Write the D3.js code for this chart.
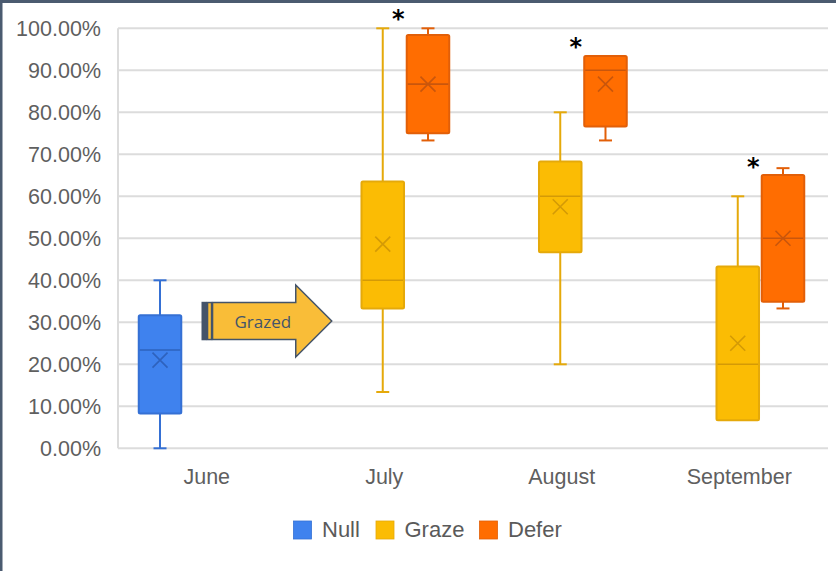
<!DOCTYPE html>
<html>
<head>
<meta charset="utf-8">
<script src="https://cdn.jsdelivr.net/npm/d3@7"></script>
<style>
    body { margin: 0; background: #fff; }
    svg { display: block; font-family: "Liberation Sans", Arial, sans-serif; }
</style>
</head>
<body>
<div id="chart"></div>
<script>
// DATA //
const months = ["June", "July", "August", "September"]
const seriesNames = ["Null", "Graze", "Defer"]
const yTicks = [0, 10, 20, 30, 40, 50, 60, 70, 80, 90, 100]

// box stats in percent
const nullBoxes = [
    {month: "June", min: 0, q1: 8.3, median: 23.4, q3: 31.7, max: 40, mean: 21},
]
const grazeBoxes = [
    {month: "July", min: 13.4, q1: 33.3, median: 40, q3: 63.5, max: 100, mean: 48.6},
    {month: "August", min: 20, q1: 46.7, median: 60, q3: 68.3, max: 80, mean: 57.5},
    {month: "September", min: 6.7, q1: 6.7, median: 20, q3: 43.3, max: 60, mean: 25},
]
const deferBoxes = [
    {month: "July", min: 73.3, q1: 75, median: 86.7, q3: 98.4, max: 100, mean: 86.7},
    {month: "August", min: 73.3, q1: 76.6, median: 90, q3: 93.4, max: 93.4, mean: 86.7},
    {month: "September", min: 33.3, q1: 34.9, median: 50, q3: 65.1, max: 66.7, mean: 50},
]
// significance markers (level in percent)
const significant = [
    {month: "July", level: 103.4},
    {month: "August", level: 96.7},
    {month: "September", level: 68.2},
]
const arrowLabel = "Grazed"

// STYLE //
const colors = {
    Null:  {fill: "#3f82ee", stroke: "#3570d4", dark: "#2e62bd"},
    Graze: {fill: "#fbbc04", stroke: "#e5a90a", dark: "#d49a06"},
    Defer: {fill: "#ff6d01", stroke: "#e25f08", dark: "#c9560c"},
}

let dimensions = {
    width: 836,
    height: 571,
    margin: {top: 28.3, right: 8, bottom: 122.7, left: 118},
}
dimensions.boundedWidth = dimensions.width - dimensions.margin.left - dimensions.margin.right
dimensions.boundedHeight = dimensions.height - dimensions.margin.top - dimensions.margin.bottom

// scales
const xScale = d3.scaleBand()
    .domain(months)
    .range([0, dimensions.boundedWidth])

const groupWidth = 133
const innerScale = d3.scaleBand()
    .domain(seriesNames)
    .range([(xScale.bandwidth() - groupWidth) / 2 - 1.5, (xScale.bandwidth() + groupWidth) / 2 - 1.5])
    .paddingInner(0.06)

const yScale = d3.scaleLinear()
    .domain([0, 100])
    .range([dimensions.boundedHeight, 0])

const svg = d3.select("#chart")
    .append("svg")
    .attr("width", dimensions.width)
    .attr("height", dimensions.height)

const bounds = svg.append("g")
    .attr("transform", `translate(${dimensions.margin.left},${dimensions.margin.top})`)

// gridlines
bounds.append("g")
    .selectAll("line")
    .data(yTicks)
    .join("line")
    .attr("x1", 0)
    .attr("x2", dimensions.boundedWidth)
    .attr("y1", d => yScale(d))
    .attr("y2", d => yScale(d))
    .attr("stroke", "#dcdcdc")
    .attr("stroke-width", 2)

bounds.append("line")
    .attr("x1", 0).attr("x2", 0)
    .attr("y1", 0).attr("y2", dimensions.boundedHeight)
    .attr("stroke", "#dcdcdc")
    .attr("stroke-width", 2)

// y axis
const yAxisGenerator = d3.axisLeft(yScale)
    .tickValues(yTicks)
    .tickSize(0)
    .tickPadding(17)
    .tickFormat(d => d.toFixed(2) + "%")

const yAxis = bounds.append("g").call(yAxisGenerator)
yAxis.select(".domain").remove()
yAxis.selectAll("text")
    .attr("fill", "#5f5f5f")
    .style("font-size", "21.5px")

// x axis
const xAxisGenerator = d3.axisBottom(xScale)
    .tickSize(0)
    .tickPadding(20)

const xAxis = bounds.append("g")
    .attr("transform", `translate(0,${dimensions.boundedHeight})`)
    .call(xAxisGenerator)
xAxis.select(".domain").remove()
xAxis.selectAll("text")
    .attr("fill", "#5f5f5f")
    .style("font-size", "21.5px")

// boxes
const cx = (d, s) => xScale(d.month) + innerScale(s) + innerScale.bandwidth() / 2

function drawSeries(data, s) {
    const c = colors[s]
    const g = bounds.append("g").attr("class", "series-" + s)
    const bw = innerScale.bandwidth()
    const capW = 13

    // whiskers
    g.selectAll(".whisker")
        .data(data)
        .join("line")
        .attr("x1", d => cx(d, s)).attr("x2", d => cx(d, s))
        .attr("y1", d => yScale(d.max)).attr("y2", d => yScale(d.min))
        .attr("stroke", c.stroke)
        .attr("stroke-width", 2)

    g.selectAll(".cap-top")
        .data(data.filter(d => d.max > d.q3))
        .join("line")
        .attr("x1", d => cx(d, s) - capW / 2).attr("x2", d => cx(d, s) + capW / 2)
        .attr("y1", d => yScale(d.max)).attr("y2", d => yScale(d.max))
        .attr("stroke", c.stroke)
        .attr("stroke-width", 2)

    g.selectAll(".cap-bottom")
        .data(data.filter(d => d.min < d.q1))
        .join("line")
        .attr("x1", d => cx(d, s) - capW / 2).attr("x2", d => cx(d, s) + capW / 2)
        .attr("y1", d => yScale(d.min)).attr("y2", d => yScale(d.min))
        .attr("stroke", c.stroke)
        .attr("stroke-width", 2)

    // box
    g.selectAll(".box")
        .data(data)
        .join("rect")
        .attr("x", d => cx(d, s) - bw / 2)
        .attr("y", d => yScale(d.q3))
        .attr("width", bw)
        .attr("height", d => yScale(d.q1) - yScale(d.q3))
        .attr("rx", 1.5)
        .attr("fill", c.fill)
        .attr("stroke", c.stroke)
        .attr("stroke-width", 2)

    // median
    g.selectAll(".median")
        .data(data)
        .join("line")
        .attr("x1", d => cx(d, s) - bw / 2 + 1).attr("x2", d => cx(d, s) + bw / 2 - 1)
        .attr("y1", d => yScale(d.median)).attr("y2", d => yScale(d.median))
        .attr("stroke", c.dark)
        .attr("stroke-width", 1.6)

    // mean marker
    const m = 7.5
    g.selectAll(".mean")
        .data(data)
        .join("path")
        .attr("d", d => {
            const x = cx(d, s), y = yScale(d.mean)
            return `M${x - m},${y - m}L${x + m},${y + m}M${x - m},${y + m}L${x + m},${y - m}`
        })
        .attr("stroke", c.dark)
        .attr("stroke-width", 1.6)
        .attr("fill", "none")
}

drawSeries(nullBoxes, "Null")
drawSeries(grazeBoxes, "Graze")
drawSeries(deferBoxes, "Defer")

// asterisks
bounds.selectAll(".star")
    .data(significant)
    .join("text")
    .attr("x", d => xScale(d.month) + xScale.bandwidth() / 2 + 14)
    .attr("y", d => yScale(d.level) + 13)
    .attr("text-anchor", "middle")
    .attr("fill", "#000")
    .style("font-family", "DejaVu Sans, sans-serif")
    .style("font-weight", "bold")
    .style("font-size", "24px")
    .text("*")

// "Grazed" arrow
const ax = xScale("June") + xScale.bandwidth() / 2
const ay = yScale(30.3)
const arrow = bounds.append("g")
    .attr("transform", `translate(${ax},${ay})`)
const arrowStroke = "#44546a"
const arrowFill = "#f9bd38"

arrow.append("rect")
    .attr("x", -4.5).attr("y", -18.5).attr("width", 4).attr("height", 37)
    .attr("fill", arrowStroke).attr("stroke", arrowStroke).attr("stroke-width", 1.5)
arrow.append("rect")
    .attr("x", 0.8).attr("y", -18.5).attr("width", 4).attr("height", 37)
    .attr("fill", arrowFill).attr("stroke", arrowStroke).attr("stroke-width", 1.5)
arrow.append("path")
    .attr("d", "M5.8,-18.5L89,-18.5L89,-36L125,0L89,36L89,18.5L5.8,18.5Z")
    .attr("fill", arrowFill)
    .attr("stroke", arrowStroke)
    .attr("stroke-width", 1.5)
    .attr("stroke-linejoin", "miter")
arrow.append("text")
    .attr("x", 56)
    .attr("y", 7)
    .attr("text-anchor", "middle")
    .attr("fill", arrowStroke)
    .style("font-family", "'Open Sans', sans-serif")
    .style("font-size", "17px")
    .text(arrowLabel)

// legend
const legend = svg.append("g")
    .attr("transform", "translate(293.5,521)")
const legendOffsets = [0, 82.5, 186]
seriesNames.forEach((s, i) => {
    const item = legend.append("g").attr("transform", `translate(${legendOffsets[i]},0)`)
    item.append("rect")
        .attr("width", 18).attr("height", 18)
        .attr("fill", colors[s].fill)
        .attr("stroke", colors[s].stroke)
        .attr("stroke-width", 0.8)
    item.append("text")
        .attr("x", 28.5)
        .attr("y", 16)
        .attr("fill", "#5a5a5a")
        .style("font-size", "22px")
        .text(s)
})

// slide border
svg.append("rect").attr("x", 0).attr("y", 0).attr("width", dimensions.width).attr("height", 3).attr("fill", "#4b5b70")
svg.append("rect").attr("x", 0).attr("y", 0).attr("width", 2.5).attr("height", dimensions.height).attr("fill", "#4b5b70")
</script>
</body>
</html>
